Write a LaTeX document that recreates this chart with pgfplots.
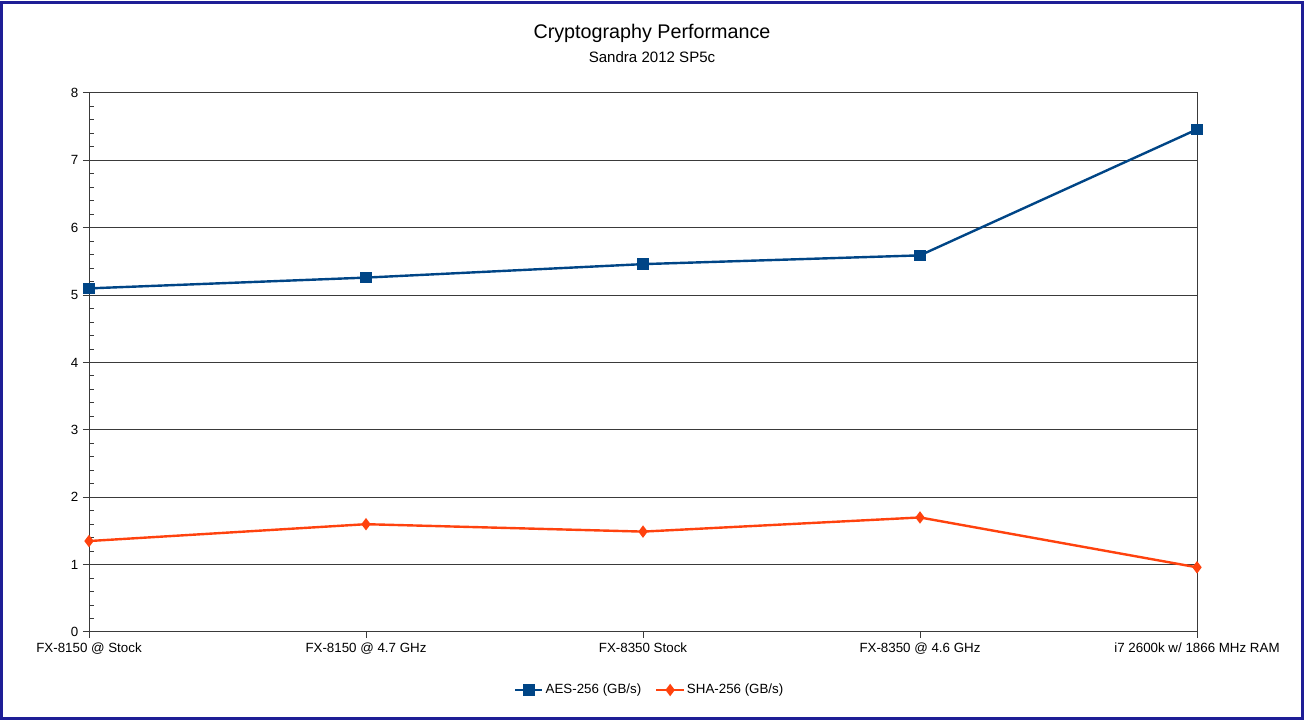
\documentclass[border=0pt]{standalone}
\usepackage{pgfplots}
\pgfplotsset{compat=1.18}
\usepackage{fontspec}
\setmainfont{Liberation Sans}
\definecolor{aes}{HTML}{004586}
\definecolor{sha}{HTML}{FF420E}
\definecolor{framecol}{RGB}{30,30,150}
\definecolor{axcol}{HTML}{3A3A3A}

\begin{document}
\begin{tikzpicture}[x=0.75pt,y=0.75pt]
	\useasboundingbox (0,0) rectangle (1305,720);
	\draw[framecol, line width=2.25pt] (1.5,1.5) rectangle (1302,717);
	\node[font=\fontsize{14.8}{16}\selectfont] at (652,687) {Cryptography Performance};
	\node[font=\fontsize{11.3}{13}\selectfont] at (652,663) {Sandra 2012 SP5c};
	\begin{axis}[
		at={(66.75pt,66pt)}, anchor=south west,
		scale only axis,
		width=831pt, height=404.25pt,
		xmin=0, xmax=4,
		ymin=0, ymax=8,
		xtick={0,1,2,3,4},
		xticklabels={FX-8150 @ Stock, FX-8150 @ 4.7 GHz, FX-8350 Stock, FX-8350 @ 4.6 GHz, i7 2600k w/ 1866 MHz RAM},
		ytick={0,1,...,8},
		minor y tick num=4,
		ymajorgrids,
		major grid style={axcol, line width=0.75pt},
		axis line style={axcol, line width=0.75pt},
		tick style={axcol, line width=0.75pt},
		tick align=outside,
		xtick pos=bottom, ytick pos=left,
		major tick length=4.5pt,
		minor tick length=3.75pt,
		minor y tick style={xshift=3.75pt},
		tick label style={font=\fontsize{10}{12}\selectfont, black},
		/pgf/number format/assume math mode=true,
		legend image code/.code={
			\draw[mark repeat=2, mark phase=2, #1]
				plot coordinates {(0cm,0cm) (0.36cm,0cm) (0.72cm,0cm)};},
		legend style={at={(0.506,-0.1076)}, anchor=center, draw=none,
			font=\fontsize{10}{12}\selectfont,
			nodes={inner xsep=1.5pt},
			/tikz/every even column/.append style={column sep=9pt}},
		legend columns=-1,
		]
		% AES-256
		\addplot[aes, line width=1.8pt, mark=square*, mark size=3.4pt, mark options={solid}]
			coordinates {(0,5.10) (1,5.26) (2,5.46) (3,5.59) (4,7.46)};
		\addlegendentry{AES-256 (GB/s)}
		% SHA-256
		\addplot[sha, line width=1.8pt, mark=diamond*, mark size=3.2pt, mark options={solid}]
			coordinates {(0,1.35) (1,1.60) (2,1.49) (3,1.70) (4,0.96)};
		\addlegendentry{SHA-256 (GB/s)}
	\end{axis}
\end{tikzpicture}
\end{document}
